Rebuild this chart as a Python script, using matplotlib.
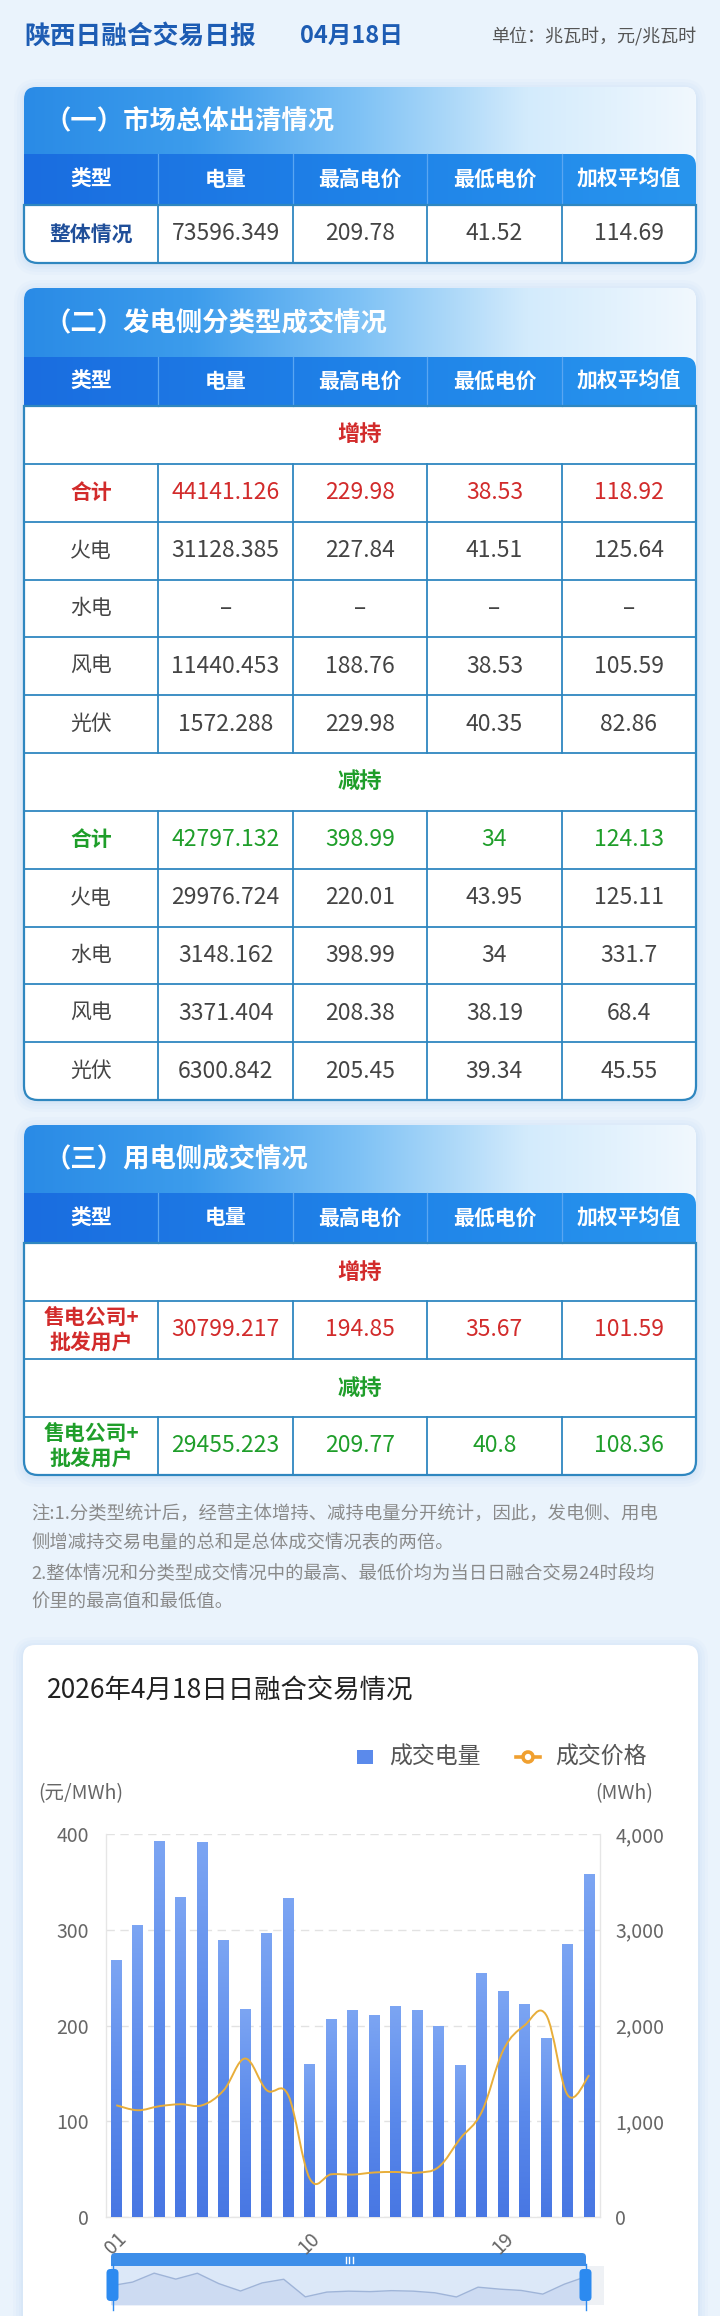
import numpy as np
import matplotlib
matplotlib.use('Agg')
import matplotlib.pyplot as plt
from matplotlib.path import Path
from matplotlib.patches import PathPatch, Rectangle, Circle
from matplotlib.lines import Line2D
from matplotlib.colors import LinearSegmentedColormap
import matplotlib.ticker as mticker

plt.rcParams['font.family'] = ['Noto Sans CJK SC', 'DejaVu Sans']

# ---------------- data ----------------
report_title = "陕西日融合交易日报"
report_date = "04月18日"
unit_text = "单位：兆瓦时，元/兆瓦时"
columns = ["类型", "电量", "最高电价", "最低电价", "加权平均值"]

section_titles = ["（一）市场总体出清情况", "（二）发电侧分类型成交情况", "（三）用电侧成交情况"]
increase_label = "增持"
decrease_label = "减持"

overall_row = ["整体情况", "73596.349", "209.78", "41.52", "114.69"]

gen_increase = [
    ["合计", "44141.126", "229.98", "38.53", "118.92"],
    ["火电", "31128.385", "227.84", "41.51", "125.64"],
    ["水电", "–", "–", "–", "–"],
    ["风电", "11440.453", "188.76", "38.53", "105.59"],
    ["光伏", "1572.288", "229.98", "40.35", "82.86"],
]
gen_decrease = [
    ["合计", "42797.132", "398.99", "34", "124.13"],
    ["火电", "29976.724", "220.01", "43.95", "125.11"],
    ["水电", "3148.162", "398.99", "34", "331.7"],
    ["风电", "3371.404", "208.38", "38.19", "68.4"],
    ["光伏", "6300.842", "205.45", "39.34", "45.55"],
]
load_increase = ["售电公司+\n批发用户", "30799.217", "194.85", "35.67", "101.59"]
load_decrease = ["售电公司+\n批发用户", "29455.223", "209.77", "40.8", "108.36"]

notes = [
    "注:1.分类型统计后，经营主体增持、减持电量分开统计，因此，发电侧、用电",
    "侧增减持交易电量的总和是总体成交情况表的两倍。",
    "2.整体情况和分类型成交情况中的最高、最低价均为当日日融合交易24时段均",
    "价里的最高值和最低值。",
]

chart_title = "2026年4月18日日融合交易情况"
legend_labels = ["成交电量", "成交价格"]
left_unit = "(元/MWh)"
right_unit = "(MWh)"
hours = ["01", "02", "03", "04", "05", "06", "07", "08", "09", "10", "11", "12",
         "13", "14", "15", "16", "17", "18", "19", "20", "21", "22", "23"]
volume = [2683, 3045, 3923, 3338, 3916, 2889, 2167, 2965, 3324, 1592, 2063, 2153,
          2108, 2202, 2153, 1993, 1582, 2544, 2352, 2223, 1864, 2843, 3582]
price = [116.7, 111.5, 115.7, 117.8, 116.7, 132.4, 165.5, 132.4, 127.2, 40.1, 44.6, 44.3,
         46.5, 47.0, 46.3, 52.3, 81.9, 109.8, 174.2, 200.3, 210.8, 127.2, 148.1]
price_ticks = [0, 100, 200, 300, 400]
volume_ticks = [0, 1000, 2000, 3000, 4000]

# ---------------- figure ----------------
W, H = 720, 2316
fig = plt.figure(figsize=(W / 100, H / 100), dpi=100)
fig.patch.set_facecolor('#EAF3FC')

bg = fig.add_axes([0, 0, 1, 1], zorder=0)
bg.set_xlim(0, W)
bg.set_ylim(H, 0)
bg.axis('off')

FAM = ['Noto Sans CJK SC', 'DejaVu Sans']


def rr_path(x0, y0, x1, y1, tl=0, tr=0, br=0, bl=0):
    v = [(x0 + tl, y0), (x1 - tr, y0), (x1, y0), (x1, y0 + tr),
         (x1, y1 - br), (x1, y1), (x1 - br, y1),
         (x0 + bl, y1), (x0, y1), (x0, y1 - bl),
         (x0, y0 + tl), (x0, y0), (x0 + tl, y0), (x0 + tl, y0)]
    c = [Path.MOVETO, Path.LINETO, Path.CURVE3, Path.CURVE3,
         Path.LINETO, Path.CURVE3, Path.CURVE3,
         Path.LINETO, Path.CURVE3, Path.CURVE3,
         Path.LINETO, Path.CURVE3, Path.CURVE3, Path.CLOSEPOLY]
    return Path(v, c)


def fill_path(ax, path, color, z, alpha=1.0, ec='none', lw=0):
    p = PathPatch(path, facecolor=color, edgecolor=ec, lw=lw, alpha=alpha, zorder=z)
    ax.add_patch(p)
    return p


def grad_fill(ax, path, box, colors, z, horizontal=True):
    x0, y0, x1, y1 = box
    cmap = LinearSegmentedColormap.from_list('g', colors)
    arr = np.linspace(0, 1, 256)
    arr = arr.reshape(1, -1) if horizontal else arr.reshape(-1, 1)
    im = ax.imshow(arr, cmap=cmap, extent=(x0, x1, y1, y0), origin='upper',
                   aspect='auto', interpolation='bilinear', zorder=z)
    clip = PathPatch(path, facecolor='none', edgecolor='none', transform=ax.transData)
    ax.add_patch(clip)
    im.set_clip_path(clip)


def shadow(ax, x0, y0, x1, y1, r):
    for k, a in zip([10, 7, 4, 2], [0.10, 0.12, 0.14, 0.18]):
        fill_path(ax, rr_path(x0 - k, y0 - k + 2, x1 + k, y1 + k + 2, r + k, r + k, r + k, r + k),
                  '#C5DDF3', 1, alpha=a)


# ---------------- header ----------------
bg.text(24, 36, report_title, fontsize=18.5, fontweight='bold', color='#1D5CB3',
        va='center', ha='left', family=FAM)
bg.text(300, 36, report_date, fontsize=17, fontweight='bold', color='#1D5CB3',
        va='center', ha='left', family=FAM)
bg.text(696, 36, unit_text, fontsize=13, color='#555555', va='center', ha='right', family=FAM)

X0, X1 = 24, 696
col_w = (X1 - X0) / len(columns)
col_cx = [X0 + (i + 0.5) * col_w for i in range(len(columns))]
GRID = '#2F87C0'
RED = '#D22B2B'
GREEN = '#1F9E2A'
GRAY = '#444444'


def draw_card(top, title, header_top, body_top, rows, bottom):
    shadow(bg, X0, top, X1, bottom, 14)
    fill_path(bg, rr_path(X0, top, X1, bottom, 12, 12, 14, 14), 'white', 2)
    grad_fill(bg, rr_path(X0, top, X1, header_top + 16, 12, 12, 0, 0),
              (X0, top, X1, header_top + 16),
              ['#2A8BE6', '#3C9CEC', '#7FC2F5', '#D3EBFC', '#F1F8FE'], 3)
    bg.text(45, (top + header_top) / 2 + 1, title, fontsize=19, fontweight='bold',
            color='white', va='center', ha='left', family=FAM, zorder=6)
    grad_fill(bg, rr_path(X0, header_top, X1, body_top, 0, 12, 0, 0),
              (X0, header_top, X1, body_top), ['#1A6DE0', '#1F82E8', '#2895EE'], 4)
    for i in range(1, len(columns)):
        bx = X0 + i * col_w
        bg.plot([bx, bx], [header_top, body_top], color='#5AA6F2', lw=0.9, zorder=5)
    for i, name in enumerate(columns):
        bg.text(col_cx[i], (header_top + body_top) / 2, name, fontsize=15, fontweight='bold',
                color='white', va='center', ha='center', family=FAM, zorder=6)
    fill_path(bg, rr_path(X0, body_top, X1, bottom, 0, 0, 14, 14), 'white', 4)
    n = len(rows)
    rh = (bottom - body_top) / n
    for r, row in enumerate(rows):
        y0 = body_top + r * rh
        y1 = y0 + rh
        yc = (y0 + y1) / 2
        if r > 0:
            bg.plot([X0, X1], [y0, y0], color=GRID, lw=1.3, zorder=5)
        kind = row[0]
        if kind == 'merged':
            _, label, color = row
            bg.text((X0 + X1) / 2, yc, label, fontsize=16, fontweight='bold', color=color,
                    va='center', ha='center', family=FAM, zorder=6)
        else:
            _, cells, color, label_style = row
            for i in range(1, len(columns)):
                bx = X0 + i * col_w
                bg.plot([bx, bx], [y0, y1], color=GRID, lw=1.3, zorder=5)
            for i, val in enumerate(cells):
                if i == 0:
                    fw = 'bold' if label_style == 'bold' else 'normal'
                    fs = 15
                    lsp = 1.25
                else:
                    fw = 'medium' if color != GRAY else 'normal'
                    fs = 16.5
                    lsp = 1.2
                c = color
                if i == 0 and label_style == 'blue':
                    c = '#1F4E99'
                    fw = 'bold'
                bg.text(col_cx[i], yc, val, fontsize=fs, fontweight=fw, color=c,
                        va='center', ha='center', family=FAM, zorder=6, linespacing=lsp)
    fill_path(bg, rr_path(X0, body_top, X1, bottom, 0, 0, 14, 14), 'none', 7, ec=GRID, lw=1.6)


# card 1
draw_card(87, section_titles[0], 154, 205,
          [('row', overall_row, GRAY, 'blue')], 263)

# card 2
rows2 = [('merged', increase_label, RED)]
for k, rw in enumerate(gen_increase):
    rows2.append(('row', rw, RED if k == 0 else GRAY, 'bold' if k == 0 else 'normal'))
rows2.append(('merged', decrease_label, GREEN))
for k, rw in enumerate(gen_decrease):
    rows2.append(('row', rw, GREEN if k == 0 else GRAY, 'bold' if k == 0 else 'normal'))
draw_card(288, section_titles[1], 357, 406, rows2, 1100)

# card 3
rows3 = [('merged', increase_label, RED), ('row', load_increase, RED, 'bold'),
         ('merged', decrease_label, GREEN), ('row', load_decrease, GREEN, 'bold')]
draw_card(1125, section_titles[2], 1193, 1243, rows3, 1475)

# notes
for t, y in zip(notes, [1515, 1544, 1574, 1603]):
    bg.text(31, y, t, fontsize=13.2, color='#8A8A8A', va='center', ha='left', family=FAM)

# ---------------- chart card ----------------
shadow(bg, 23, 1645, 698, 2345, 12)
fill_path(bg, rr_path(23, 1645, 698, 2345, 12, 12, 12, 12), 'white', 2)
bg.text(47, 1691, chart_title, fontsize=19, color='#222222', va='center', ha='left',
        family=FAM, zorder=6)

BAR_C = '#5B8AEB'
LINE_C = '#E8AE3A'
bg.add_patch(Rectangle((357, 1750), 16, 14, facecolor=BAR_C, edgecolor='none', zorder=6))
bg.text(389, 1757, legend_labels[0], fontsize=16.5, color='#555555', va='center', ha='left',
        family=FAM, zorder=6)
bg.add_line(Line2D([516, 540], [1757, 1757], color='#F0A030', lw=2.6, zorder=6))
bg.add_patch(Circle((528, 1757), 5, facecolor='white', edgecolor='#F0A030', lw=2.6, zorder=7))
bg.text(555, 1757, legend_labels[1], fontsize=16.5, color='#555555', va='center', ha='left',
        family=FAM, zorder=6)
bg.text(38, 1794, left_unit, fontsize=14, color='#666666', va='center', ha='left',
        family=FAM, zorder=6)
bg.text(653, 1794, right_unit, fontsize=14, color='#666666', va='center', ha='right',
        family=FAM, zorder=6)

# slider background
bg.add_patch(Rectangle((111, 2266), 604 - 111, 39, facecolor='#EEF1F5', edgecolor='none', zorder=4))
bg.add_patch(Rectangle((111, 2266), 586 - 111, 39, facecolor='#DCE8F8', edgecolor='none', zorder=5))
fill_path(bg, rr_path(111, 2253, 586, 2266, 4, 4, 0, 0), '#3D8EE9', 6)
for gx in [345.5, 349, 352.5]:
    bg.add_line(Line2D([gx, gx], [2257, 2263], color='white', lw=1, zorder=7))

# ---------------- main chart axes ----------------
L, R, T, B = 105.5, 600, 1834, 2217
ax = fig.add_axes([L / W, 1 - B / H, (R - L) / W, (B - T) / H], zorder=2)
ax.patch.set_alpha(0)
axl = ax.twinx()
axl.set_zorder(3)
axl.patch.set_visible(False)

x = np.arange(len(hours))
bars = ax.bar(x, volume, width=0.5, color='none', edgecolor='none', zorder=3)
bar_cmap = LinearSegmentedColormap.from_list('b', ['#4877E3', '#5B8AEB', '#7CA5F3'])
grad = np.linspace(0, 1, 128).reshape(-1, 1)
for rect in bars:
    bx, bw, bh = rect.get_x(), rect.get_width(), rect.get_height()
    ax.imshow(grad, cmap=bar_cmap, extent=(bx, bx + bw, 0, bh), origin='lower',
              aspect='auto', interpolation='bilinear', zorder=3)
ax.set_xlim(-0.5, len(hours) - 0.5)
ax.set_ylim(volume_ticks[0], volume_ticks[-1])
ax.set_yticks(volume_ticks)
ax.yaxis.set_major_formatter(mticker.FuncFormatter(lambda v, p: f"{v:,.0f}"))
ax.yaxis.tick_right()
ax.tick_params(axis='y', which='both', left=False, labelleft=False, right=False, labelright=True,
               length=0, pad=11, labelsize=14, labelcolor='#666666')
ax.yaxis.grid(True, linestyle=(0, (6, 4)), color='#E2E2E2', lw=1, zorder=0)
ax.set_axisbelow(True)
for s in ['left', 'right', 'bottom']:
    ax.spines[s].set_color('#E6E6E6')
    ax.spines[s].set_linewidth(1)
ax.spines['top'].set_visible(False)
tick_idx = x[::9]
ax.set_xticks(tick_idx)
ax.set_xticklabels([hours[i] for i in tick_idx], rotation=45, ha='right', va='top',
                   rotation_mode='anchor', fontsize=14, color='#666666')
ax.tick_params(axis='x', length=0, pad=8)

pts = np.column_stack([x, np.array(price, dtype=float)])
n = len(pts)
s = 0.18
verts = [tuple(pts[0])]
codes = [Path.MOVETO]
for i in range(n - 1):
    p0 = pts[max(i - 1, 0)]
    p1 = pts[i]
    p2 = pts[i + 1]
    p3 = pts[min(i + 2, n - 1)]
    c1 = p1 + (p2 - p0) * s
    c2 = p2 - (p3 - p1) * s
    verts += [tuple(c1), tuple(c2), tuple(p2)]
    codes += [Path.CURVE4] * 3
axl.add_patch(PathPatch(Path(verts, codes), facecolor='none', edgecolor=LINE_C, lw=1.4, zorder=4))
axl.set_ylim(price_ticks[0], price_ticks[-1])
axl.set_xlim(-0.5, len(hours) - 0.5)
axl.set_yticks(price_ticks)
axl.yaxis.tick_left()
axl.tick_params(axis='y', which='both', left=False, labelleft=True, right=False, labelright=False,
                length=0, pad=12, labelsize=14, labelcolor='#666666')
for s_ in axl.spines.values():
    s_.set_visible(False)

# ---------------- mini slider chart ----------------
mini = fig.add_axes([111 / W, 1 - 2305 / H, (586 - 111) / W, 39 / H], zorder=3)
mini.patch.set_alpha(0)
mini.plot(x, volume, color='#9FB4D8', lw=1)
mini.fill_between(x, volume, min(volume) * 0.5, color='#C3D3EE', alpha=0.6, lw=0)
mini.set_xlim(x[0], x[-1])
mini.set_ylim(min(volume) * 0.5, max(volume) * 1.18)
mini.axis('off')

top = fig.add_axes([0, 0, 1, 1], zorder=4)
top.set_xlim(0, W)
top.set_ylim(H, 0)
top.axis('off')
top.patch.set_alpha(0)
for hx in [112.5, 585.5]:
    top.add_line(Line2D([hx, hx], [2264, 2310], color='#2C8AF0', lw=1))
    fill_path(top, rr_path(hx - 6, 2269, hx + 6, 2301, 4, 4, 4, 4), '#2C8AF0', 5)

fig.savefig('out.png', dpi=100, facecolor=fig.get_facecolor())
